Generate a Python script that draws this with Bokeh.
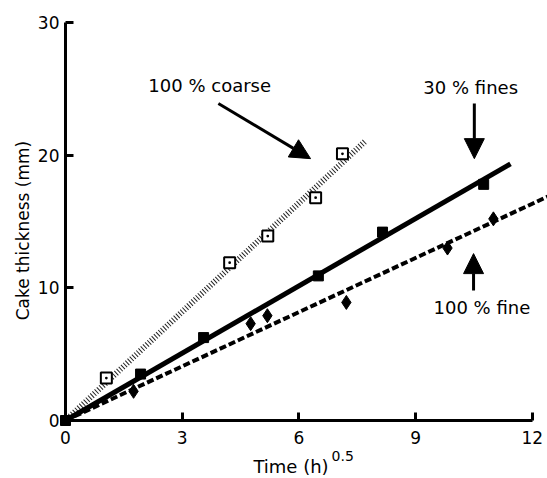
import numpy as np
from bokeh.plotting import figure
from bokeh.models import Range1d, Label, Arrow, NormalHead, FixedTicker
from bokeh.embed import file_html
from bokeh.resources import INLINE

# ---- data ----
coarse_x = [1.05, 4.22, 5.2, 6.43, 7.12]
coarse_y = [3.2, 11.9, 13.9, 16.8, 20.1]
fines30_x = [0.0, 1.93, 3.55, 6.5, 8.15, 10.75]
fines30_y = [0.0, 3.5, 6.25, 10.9, 14.2, 17.8]
fine_x = [1.75, 4.76, 5.19, 7.22, 9.82, 11.0]
fine_y = [2.2, 7.3, 7.9, 8.9, 13.0, 15.2]
x_ticks = [0, 3, 6, 9, 12]
y_ticks = [0, 10, 20, 30]
line_end_x = {"coarse": 7.71, "fines30": 11.44, "fine": 12.4}

FONT = "DejaVu Sans"


def origin_fit(x, y):
    x = np.asarray(x, float)
    y = np.asarray(y, float)
    return float((x * y).sum() / (x * x).sum())


p = figure(width=547, height=478, output_backend="svg", toolbar_location=None,
           x_range=Range1d(-1.671, 12.391), y_range=Range1d(-4.372, 31.66),
           min_border_left=0, min_border_right=0, min_border_top=0,
           min_border_bottom=0)
p.outline_line_color = None
p.grid.visible = False
p.background_fill_color = "white"
p.border_fill_color = "white"

for ax in (p.xaxis[0], p.yaxis[0]):
    ax.fixed_location = 0
    ax.axis_line_width = 3
    ax.axis_line_color = "black"
    ax.major_tick_line_width = 3
    ax.major_tick_line_color = "black"
    ax.major_tick_in = 8
    ax.major_tick_out = 0
    ax.minor_tick_line_color = None
    ax.major_label_text_font = FONT
    ax.major_label_text_font_size = "17px"
    ax.major_label_text_color = "black"

p.xaxis.ticker = FixedTicker(ticks=x_ticks)
p.yaxis.ticker = FixedTicker(ticks=y_ticks)
p.xaxis.bounds = (0, 12)
p.yaxis.bounds = (0, 30)
p.xaxis.major_label_standoff = 10
p.yaxis.major_label_standoff = 6

# fitted lines through origin
s_c = origin_fit(coarse_x, coarse_y)
s_30 = origin_fit(fines30_x, fines30_y)
s_f = origin_fit(fine_x, fine_y)

p.line([0, line_end_x["coarse"]], [0, s_c * line_end_x["coarse"]],
       line_width=6, line_color="#222222", line_dash="1 2")
p.line([0, line_end_x["fines30"]], [0, s_30 * line_end_x["fines30"]],
       line_width=5, line_color="black")
p.line([0, line_end_x["fine"]], [0, s_f * line_end_x["fine"]],
       line_width=4, line_color="black", line_dash="7 3")

p.scatter(coarse_x, coarse_y, marker="square_dot", size=11,
          fill_color="white", line_color="black", line_width=2)
p.scatter(fines30_x, fines30_y, marker="square", size=10,
          fill_color="black", line_color="black")
p.scatter(fine_x, fine_y, marker="diamond", size=14,
          fill_color="black", line_color="black")

# annotations
def add_label(x, y, text, size="18px", baseline="middle", align="left", angle=0.0):
    p.add_layout(Label(x=x, y=y, text=text, text_font=FONT,
                       text_font_size=size, text_baseline=baseline,
                       text_align=align, angle=angle, text_color="black"))

add_label(2.13, 25.25, "100 % coarse")
add_label(9.2, 25.1, "30 % fines")
add_label(9.46, 8.5, "100 % fine")
add_label(4.83, -3.47, "Time (h)", size="18px")
add_label(6.84, -2.71, "0.5", size="14px")
add_label(-1.08, 14.32, "Cake thickness (mm)", size="17px", align="center",
          angle=np.pi / 2)

for (xs, ys, xe, ye) in [(3.93, 23.9, 6.30, 19.74),
                         (10.51, 23.9, 10.51, 19.74),
                         (10.49, 9.8, 10.49, 12.58)]:
    p.add_layout(Arrow(x_start=xs, y_start=ys, x_end=xe, y_end=ye,
                       line_width=3, line_color="black",
                       end=NormalHead(size=20, fill_color="black",
                                      line_color="black")))

open("out.html", "w").write(file_html(p, INLINE))
